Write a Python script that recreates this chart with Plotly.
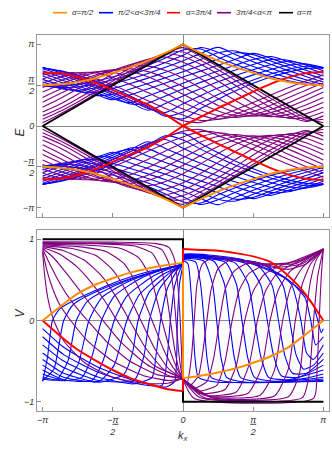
import plotly.graph_objects as go

# ---------------- data (k_x and E in units of pi) ----------------
K_GRID = [-1, -0.875, -0.75, -0.625, -0.5, -0.375, -0.25, -0.125, 0,
          0.125, 0.25, 0.375, 0.5, 0.625, 0.75, 0.875, 1]

# upper quasi-energy band E/pi (lower band is its mirror image)
ORANGE_E = [0.50, 0.51, 0.54, 0.585, 0.65, 0.72, 0.80, 0.895, 1.0,
            0.895, 0.80, 0.72, 0.65, 0.585, 0.54, 0.51, 0.50]
RED_E = [0.655, 0.645, 0.60, 0.53, 0.44, 0.35, 0.26, 0.14, 0.0,
         0.11, 0.22, 0.32, 0.42, 0.515, 0.595, 0.645, 0.66]
BLACK_EK = [-1, 0, 1]
BLACK_E = [0, 1, 0]

BLUE_E = [
    [0.490, 0.488, 0.510, 0.548, 0.600, 0.665, 0.742, 0.831, 0.930, 0.942, 0.842, 0.752, 0.674, 0.607, 0.554, 0.514, 0.490],
    [0.492, 0.467, 0.480, 0.516, 0.566, 0.627, 0.698, 0.778, 0.865, 0.960, 0.902, 0.812, 0.729, 0.655, 0.590, 0.535, 0.492],
    [0.508, 0.461, 0.436, 0.467, 0.516, 0.576, 0.643, 0.718, 0.799, 0.886, 0.963, 0.872, 0.786, 0.706, 0.632, 0.566, 0.508],
    [0.538, 0.476, 0.423, 0.411, 0.460, 0.520, 0.586, 0.658, 0.733, 0.813, 0.896, 0.919, 0.836, 0.755, 0.678, 0.606, 0.538],
    [0.571, 0.500, 0.433, 0.373, 0.389, 0.452, 0.520, 0.591, 0.665, 0.740, 0.818, 0.896, 0.874, 0.796, 0.719, 0.644, 0.571],
    [0.611, 0.538, 0.466, 0.393, 0.321, 0.382, 0.454, 0.527, 0.599, 0.672, 0.744, 0.817, 0.889, 0.828, 0.756, 0.683, 0.611],
    [0.645, 0.570, 0.493, 0.414, 0.335, 0.286, 0.367, 0.446, 0.524, 0.600, 0.674, 0.746, 0.813, 0.850, 0.787, 0.717, 0.645],
    [0.677, 0.603, 0.524, 0.442, 0.357, 0.269, 0.280, 0.368, 0.452, 0.534, 0.612, 0.686, 0.753, 0.812, 0.805, 0.746, 0.677],
    [0.700, 0.631, 0.554, 0.471, 0.383, 0.290, 0.193, 0.275, 0.368, 0.457, 0.541, 0.619, 0.689, 0.750, 0.793, 0.758, 0.700],
    [0.717, 0.656, 0.584, 0.503, 0.413, 0.316, 0.213, 0.166, 0.272, 0.371, 0.464, 0.549, 0.626, 0.692, 0.743, 0.759, 0.717],
    [0.717, 0.670, 0.606, 0.529, 0.440, 0.342, 0.235, 0.119, 0.171, 0.283, 0.387, 0.481, 0.564, 0.636, 0.693, 0.731, 0.717],
    [0.711, 0.678, 0.623, 0.551, 0.465, 0.366, 0.256, 0.134, 0.087, 0.213, 0.328, 0.431, 0.522, 0.599, 0.660, 0.702, 0.711],
]

PURPLE_E = [
    [0.626, 0.646, 0.572, 0.491, 0.403, 0.312, 0.224, 0.140, 0.064, 0.044, 0.118, 0.199, 0.287, 0.378, 0.467, 0.550, 0.626],
    [0.575, 0.639, 0.649, 0.583, 0.501, 0.407, 0.309, 0.215, 0.134, 0.069, 0.083, 0.147, 0.227, 0.316, 0.408, 0.496, 0.575],
    [0.525, 0.598, 0.651, 0.653, 0.594, 0.509, 0.409, 0.305, 0.208, 0.132, 0.082, 0.116, 0.176, 0.255, 0.345, 0.438, 0.525],
    [0.470, 0.555, 0.622, 0.665, 0.658, 0.598, 0.508, 0.401, 0.291, 0.196, 0.128, 0.104, 0.140, 0.202, 0.283, 0.376, 0.470],
    [0.415, 0.509, 0.592, 0.653, 0.687, 0.668, 0.602, 0.503, 0.389, 0.275, 0.184, 0.128, 0.123, 0.164, 0.231, 0.318, 0.415],
    [0.350, 0.450, 0.545, 0.624, 0.678, 0.700, 0.666, 0.589, 0.481, 0.362, 0.251, 0.166, 0.123, 0.135, 0.183, 0.258, 0.350],
    [0.292, 0.397, 0.505, 0.605, 0.682, 0.729, 0.733, 0.679, 0.584, 0.464, 0.336, 0.224, 0.147, 0.115, 0.142, 0.204, 0.292],
    [0.230, 0.336, 0.455, 0.573, 0.677, 0.754, 0.796, 0.774, 0.696, 0.581, 0.445, 0.309, 0.196, 0.122, 0.106, 0.150, 0.230],
    [0.171, 0.269, 0.389, 0.516, 0.638, 0.742, 0.816, 0.843, 0.781, 0.679, 0.550, 0.408, 0.275, 0.166, 0.096, 0.103, 0.171],
    [0.124, 0.218, 0.334, 0.462, 0.591, 0.711, 0.810, 0.884, 0.851, 0.755, 0.633, 0.495, 0.355, 0.227, 0.125, 0.057, 0.124],
    [0.082, 0.180, 0.295, 0.420, 0.550, 0.676, 0.791, 0.889, 0.906, 0.806, 0.688, 0.557, 0.422, 0.292, 0.174, 0.072, 0.082],
    [0.040, 0.148, 0.267, 0.393, 0.521, 0.649, 0.771, 0.886, 0.959, 0.848, 0.727, 0.600, 0.469, 0.338, 0.214, 0.097, 0.040],
]

# velocity of the upper band
ORANGE_VK = K_GRID[:9] + K_GRID[8:]
ORANGE_V = [0, 0.17, 0.33, 0.44, 0.52, 0.59, 0.64, 0.68, 0.71,
            -0.71, -0.68, -0.64, -0.59, -0.52, -0.44, -0.33, -0.17, 0]
RED_VK = K_GRID[:9] + K_GRID[8:]
RED_V = [0, -0.19, -0.36, -0.49, -0.61, -0.71, -0.78, -0.84, -0.87,
         0.88, 0.87, 0.86, 0.83, 0.79, 0.72, 0.55, 0.32, 0.0]
BLACK_VK = [-1, 0, 0, 1]
BLACK_V = [1, 1, -1, -1]

BLUE_V = [
    [(-1, -0.75), (-0.965, -0.45), (-0.93, 0), (-0.88, 0.14), (-0.75, 0.27), (-0.5, 0.46), (-0.25, 0.6), (0, 0.7),
     (0, 0.74), (0.035, 0.7), (0.055, 0.4), (0.07, 0), (0.085, -0.45), (0.11, -0.7), (0.25, -0.76), (0.6, -0.76), (1, -0.75)],
    [(-1, -0.74), (-0.92, -0.6), (-0.85, 0), (-0.78, 0.2), (-0.6, 0.37), (-0.35, 0.53), (-0.15, 0.63), (0, 0.7),
     (0, 0.75), (0.09, 0.72), (0.125, 0.45), (0.15, 0), (0.17, -0.45), (0.2, -0.7), (0.35, -0.76), (0.7, -0.76), (1, -0.74)],
    [(-1, -0.72), (-0.9, -0.73), (-0.82, -0.5), (-0.76, 0), (-0.68, 0.24), (-0.5, 0.42), (-0.25, 0.58), (0, 0.7),
     (0, 0.76), (0.15, 0.73), (0.21, 0.45), (0.24, 0), (0.27, -0.45), (0.31, -0.7), (0.45, -0.76), (0.8, -0.75), (1, -0.72)],
    [(-1, -0.7), (-0.85, -0.74), (-0.75, -0.55), (-0.67, 0), (-0.58, 0.28), (-0.4, 0.47), (-0.2, 0.6), (0, 0.7),
     (0, 0.77), (0.22, 0.73), (0.295, 0.45), (0.33, 0), (0.365, -0.45), (0.41, -0.7), (0.55, -0.76), (0.85, -0.73), (1, -0.7)],
    [(-1, -0.66), (-0.85, -0.74), (-0.72, -0.7), (-0.65, -0.45), (-0.58, 0), (-0.49, 0.3), (-0.3, 0.52), (-0.12, 0.64), (0, 0.7),
     (0, 0.77), (0.3, 0.72), (0.38, 0.45), (0.42, 0), (0.46, -0.45), (0.51, -0.7), (0.65, -0.75), (0.88, -0.71), (1, -0.66)],
    [(-1, -0.61), (-0.85, -0.73), (-0.65, -0.74), (-0.57, -0.5), (-0.49, 0), (-0.4, 0.3), (-0.22, 0.54), (-0.08, 0.65), (0, 0.7),
     (0, 0.78), (0.37, 0.71), (0.465, 0.45), (0.51, 0), (0.555, -0.45), (0.61, -0.7), (0.75, -0.73), (1, -0.61)],
    [(-1, -0.55), (-0.85, -0.7), (-0.6, -0.75), (-0.49, -0.55), (-0.4, 0), (-0.31, 0.32), (-0.15, 0.56), (0, 0.7),
     (0, 0.78), (0.45, 0.7), (0.555, 0.43), (0.6, 0), (0.645, -0.43), (0.7, -0.68), (0.82, -0.7), (1, -0.55)],
    [(-1, -0.48), (-0.85, -0.65), (-0.6, -0.76), (-0.42, -0.66), (-0.36, -0.4), (-0.32, 0), (-0.24, 0.35), (-0.1, 0.58), (0, 0.7),
     (0, 0.79), (0.52, 0.7), (0.635, 0.43), (0.68, 0), (0.725, -0.43), (0.78, -0.65), (0.88, -0.65), (1, -0.48)],
    [(-1, -0.4), (-0.85, -0.58), (-0.6, -0.74), (-0.35, -0.74), (-0.28, -0.45), (-0.24, 0), (-0.17, 0.38), (-0.07, 0.6), (0, 0.7),
     (0, 0.79), (0.6, 0.68), (0.715, 0.42), (0.76, 0), (0.805, -0.42), (0.86, -0.6), (0.93, -0.55), (1, -0.4)],
    [(-1, -0.3), (-0.85, -0.5), (-0.6, -0.7), (-0.35, -0.78), (-0.22, -0.7), (-0.19, -0.4), (-0.16, 0), (-0.11, 0.4), (-0.04, 0.62), (0, 0.7),
     (0, 0.8), (0.55, 0.7), (0.77, 0.45), (0.84, 0), (0.88, -0.4), (0.93, -0.48), (1, -0.3)],
    [(-1, -0.2), (-0.85, -0.42), (-0.6, -0.64), (-0.35, -0.77), (-0.15, -0.8), (-0.115, -0.5), (-0.09, 0), (-0.06, 0.42), (-0.02, 0.63), (0, 0.7),
     (0, 0.8), (0.45, 0.72), (0.75, 0.5), (0.87, 0.28), (0.91, 0), (0.945, -0.3), (1, -0.2)],
    [(-1, -0.1), (-0.85, -0.33), (-0.6, -0.58), (-0.35, -0.74), (-0.12, -0.82), (-0.06, -0.75), (-0.04, 0), (-0.025, 0.45), (0, 0.7),
     (0, 0.81), (0.4, 0.76), (0.7, 0.56), (0.85, 0.35), (0.93, 0.18), (0.96, 0), (0.985, -0.15), (1, -0.1)],
]

PURPLE_V = [
    [(-1, 0.84), (-0.985, 0.55), (-0.96, 0.25), (-0.92, 0), (-0.85, -0.25), (-0.7, -0.52), (-0.5, -0.7), (-0.25, -0.78), (-0.1, -0.77), (0, -0.72),
     (0.03, -0.76), (0.06, -0.45), (0.08, 0), (0.1, 0.45), (0.14, 0.7), (0.22, 0.78), (0.4, 0.74), (0.6, 0.67), (0.75, 0.63), (0.88, 0.7), (1, 0.88)],
    [(-1, 0.86), (-0.97, 0.62), (-0.93, 0.4), (-0.88, 0.2), (-0.8, 0), (-0.68, -0.25), (-0.5, -0.5), (-0.28, -0.68), (-0.1, -0.74), (0, -0.72),
     (0.05, -0.8), (0.11, -0.68), (0.14, -0.4), (0.17, 0), (0.2, 0.38), (0.25, 0.64), (0.33, 0.74), (0.5, 0.72), (0.68, 0.66), (0.85, 0.7), (1, 0.88)],
    [(-1, 0.88), (-0.95, 0.7), (-0.89, 0.5), (-0.82, 0.3), (-0.75, 0.14), (-0.68, 0), (-0.55, -0.25), (-0.38, -0.5), (-0.18, -0.67), (0, -0.72),
     (0.07, -0.84), (0.17, -0.75), (0.22, -0.45), (0.26, 0), (0.3, 0.38), (0.36, 0.6), (0.45, 0.7), (0.6, 0.7), (0.8, 0.7), (1, 0.88)],
    [(-1, 0.89), (-0.92, 0.77), (-0.83, 0.58), (-0.74, 0.38), (-0.66, 0.2), (-0.57, 0), (-0.44, -0.27), (-0.26, -0.54), (-0.1, -0.68), (0, -0.72),
     (0.1, -0.87), (0.24, -0.8), (0.3, -0.5), (0.35, 0), (0.4, 0.37), (0.47, 0.58), (0.58, 0.68), (0.75, 0.71), (1, 0.88)],
    [(-1, 0.9), (-0.88, 0.82), (-0.76, 0.67), (-0.65, 0.46), (-0.56, 0.25), (-0.47, 0), (-0.35, -0.3), (-0.2, -0.56), (0, -0.72),
     (0.12, -0.9), (0.3, -0.85), (0.38, -0.55), (0.44, 0), (0.5, 0.36), (0.58, 0.57), (0.7, 0.68), (0.85, 0.75), (1, 0.88)],
    [(-1, 0.91), (-0.85, 0.86), (-0.7, 0.74), (-0.58, 0.55), (-0.48, 0.3), (-0.38, 0), (-0.27, -0.33), (-0.14, -0.6), (0, -0.72),
     (0.15, -0.92), (0.38, -0.88), (0.47, -0.55), (0.53, 0), (0.59, 0.37), (0.67, 0.58), (0.8, 0.71), (1, 0.88)],
    [(-1, 0.92), (-0.8, 0.89), (-0.62, 0.8), (-0.5, 0.62), (-0.4, 0.35), (-0.3, 0), (-0.2, -0.35), (-0.1, -0.6), (0, -0.72),
     (0.18, -0.93), (0.46, -0.9), (0.56, -0.58), (0.62, 0), (0.68, 0.38), (0.76, 0.6), (0.88, 0.75), (1, 0.88)],
    [(-1, 0.93), (-0.75, 0.91), (-0.55, 0.85), (-0.42, 0.7), (-0.32, 0.42), (-0.22, 0), (-0.14, -0.35), (-0.07, -0.58), (0, -0.72),
     (0.2, -0.94), (0.55, -0.92), (0.65, -0.62), (0.71, 0), (0.77, 0.42), (0.85, 0.65), (0.93, 0.78), (1, 0.88)],
    [(-1, 0.94), (-0.7, 0.93), (-0.45, 0.89), (-0.32, 0.78), (-0.23, 0.53), (-0.15, 0), (-0.09, -0.38), (-0.04, -0.6), (0, -0.72),
     (0.2, -0.95), (0.65, -0.93), (0.75, -0.6), (0.8, 0), (0.85, 0.45), (0.91, 0.7), (1, 0.88)],
    [(-1, 0.95), (-0.6, 0.945), (-0.35, 0.92), (-0.22, 0.83), (-0.15, 0.6), (-0.12, 0.35), (-0.09, 0), (-0.06, -0.35), (-0.03, -0.6), (0, -0.72),
     (0.15, -0.95), (0.75, -0.94), (0.83, -0.65), (0.87, 0), (0.91, 0.5), (0.95, 0.75), (1, 0.88)],
    [(-1, 0.96), (-0.5, 0.95), (-0.25, 0.93), (-0.15, 0.87), (-0.1, 0.7), (-0.07, 0.4), (-0.05, 0), (-0.03, -0.4), (-0.01, -0.65), (0, -0.72),
     (0.12, -0.95), (0.85, -0.95), (0.9, -0.65), (0.93, 0), (0.96, 0.55), (1, 0.88)],
    [(-1, 0.97), (-0.5, 0.965), (-0.2, 0.95), (-0.1, 0.9), (-0.06, 0.75), (-0.035, 0.4), (-0.02, 0), (-0.01, -0.4), (0, -0.72),
     (0.08, -0.96), (0.93, -0.96), (0.955, -0.6), (0.97, 0), (0.985, 0.55), (1, 0.88)],
]

LEGEND_LABELS = ["α=π/2", "π/2&lt;α&lt;3π/4", "α=3π/4", "3π/4&lt;α&lt;π", "α=π"]

PI_TICKS = [-1, -0.5, 0, 0.5, 1]
HALF = "<u>π</u><br>2"
PI_TICKTEXT = ["−π", "−" + HALF, "0", HALF, "π"]
V_TICKS = [-1, 0, 1]
V_TICKTEXT = ["−1", "0", "1"]

# ---------------- styling ----------------
C_ORANGE = "#FF8C00"
C_BLUE = "#0000FF"
C_RED = "#FF0000"
C_PURPLE = "#800080"
C_BLACK = "#000000"

fig = go.Figure()


def add(x, y, color, width, xa, ya, shape="spline", smooth=0.7):
    fig.add_trace(go.Scatter(
        x=x, y=y, mode="lines", xaxis=xa, yaxis=ya, showlegend=False,
        hoverinfo="skip", connectgaps=False,
        line=dict(color=color, width=width, shape=shape,
                  smoothing=smooth if shape == "spline" else None)))


def neg(vals):
    return [None if v is None else -v for v in vals]


# ---- top panel: quasi-energy ----
for fam, col in ((BLUE_E, C_BLUE), (PURPLE_E, C_PURPLE)):
    for e in fam:
        add(K_GRID, e, col, 1.1, "x", "y", smooth=0.8)
        add(K_GRID, neg(e), col, 1.1, "x", "y", smooth=0.8)

add(BLACK_EK, BLACK_E, C_BLACK, 2, "x", "y", shape="linear")
add(BLACK_EK, neg(BLACK_E), C_BLACK, 2, "x", "y", shape="linear")

for e, col in ((RED_E, C_RED), (ORANGE_E, C_ORANGE)):
    xs = K_GRID[:9] + [None] + K_GRID[8:]
    ys = e[:9] + [None] + e[8:]
    add(xs, ys, col, 2, "x", "y", smooth=0.8)
    add(xs, neg(ys), col, 2, "x", "y", smooth=0.8)

# ---- bottom panel: velocity ----
for fam, col in ((BLUE_V, C_BLUE), (PURPLE_V, C_PURPLE)):
    for pts in fam:
        add([p[0] for p in pts], [p[1] for p in pts], col, 1.1, "x2", "y2", smooth=0.55)

add(BLACK_VK, BLACK_V, C_BLACK, 2, "x2", "y2", shape="linear")
for vk, v, col in ((RED_VK, RED_V, C_RED), (ORANGE_VK, ORANGE_V, C_ORANGE)):
    add(vk[:9], v[:9], col, 2, "x2", "y2", smooth=0.6)
    add([vk[8], vk[9]], [v[8], v[9]], col, 2, "x2", "y2", shape="linear")
    add(vk[9:], v[9:], col, 2, "x2", "y2", smooth=0.6)

# ---------------- layout ----------------
W, H = 332, 453
ML, MR, MT, MB = 37, 3, 35, 42
PW, PH = W - ML - MR, H - MT - MB


def px_x(px):
    return (px - ML) / PW


def px_y(py):
    return (H - MB - py) / PH


axis_common = dict(
    automargin=False,
    showgrid=False, zeroline=True, zerolinecolor="#8a8a8a", zerolinewidth=1,
    showline=True, linecolor="#9a9a9a", linewidth=1, mirror=True,
    ticks="inside", ticklen=4, tickcolor="#8a8a8a", tickwidth=1,
    tickfont=dict(family="Liberation Sans", size=9, color="#333333", style="italic"),
)

fig.update_layout(
    template="none",
    width=W, height=H, margin=dict(l=ML, r=MR, t=MT, b=MB, autoexpand=False),
    paper_bgcolor="white", plot_bgcolor="white", showlegend=False,
    font=dict(family="Liberation Sans", size=9, color="#333333"),
    xaxis=dict(domain=[0, 1], anchor="y", range=[-1.04, 1.04], tickvals=PI_TICKS,
               showticklabels=False, **axis_common),
    yaxis=dict(domain=[px_y(217), 1], anchor="x", range=[-1.114, 1.114],
               tickvals=PI_TICKS, ticktext=PI_TICKTEXT, **axis_common),
    xaxis2=dict(domain=[0, 1], anchor="y2", range=[-1.04, 1.04], tickvals=PI_TICKS,
                ticktext=PI_TICKTEXT, **axis_common),
    yaxis2=dict(domain=[0, px_y(230)], anchor="x2", range=[-1.115, 1.115],
                tickvals=V_TICKS, ticktext=V_TICKTEXT, **axis_common),
)

# axis titles
fig.add_annotation(text="<i>E</i>", x=px_x(10), y=px_y(126), xref="paper", yref="paper",
                   showarrow=False, textangle=-90, font=dict(size=12, color="#333333"))
fig.add_annotation(text="<i>V</i>", x=px_x(10), y=px_y(320), xref="paper", yref="paper",
                   showarrow=False, textangle=-90, font=dict(size=12, color="#333333"))
fig.add_annotation(text="<i>k<sub>x</sub></i>", x=0.5, y=px_y(445), xref="paper", yref="paper",
                   showarrow=False, font=dict(size=11, color="#333333"))

# legend (line swatches + labels)
LEG_SWATCH_PX = [(53, 67), (99, 113), (167, 180), (217, 231), (279, 293)]
LEG_TEXT_PX = [70, 116, 184, 234, 295]
LEG_COLORS = [C_ORANGE, C_BLUE, C_RED, C_PURPLE, C_BLACK]
ly = px_y(12.7)
for (x0, x1), tx, col, lab in zip(LEG_SWATCH_PX, LEG_TEXT_PX, LEG_COLORS, LEGEND_LABELS):
    fig.add_shape(type="line", xref="paper", yref="paper", x0=px_x(x0), x1=px_x(x1),
                  y0=ly, y1=ly, line=dict(color=col, width=1.6))
    fig.add_annotation(text=lab, x=px_x(tx), y=ly, xref="paper", yref="paper",
                       xanchor="left", yanchor="middle", showarrow=False,
                       font=dict(size=8, color="#333333", style="italic"))

# no toolbar; remove the browser's default page margin so the figure sits at the window origin
fig.write_html("out.html",
               config={"displayModeBar": False, "staticPlot": True},
               post_script="document.body.style.margin='0';document.body.style.padding='0';")
